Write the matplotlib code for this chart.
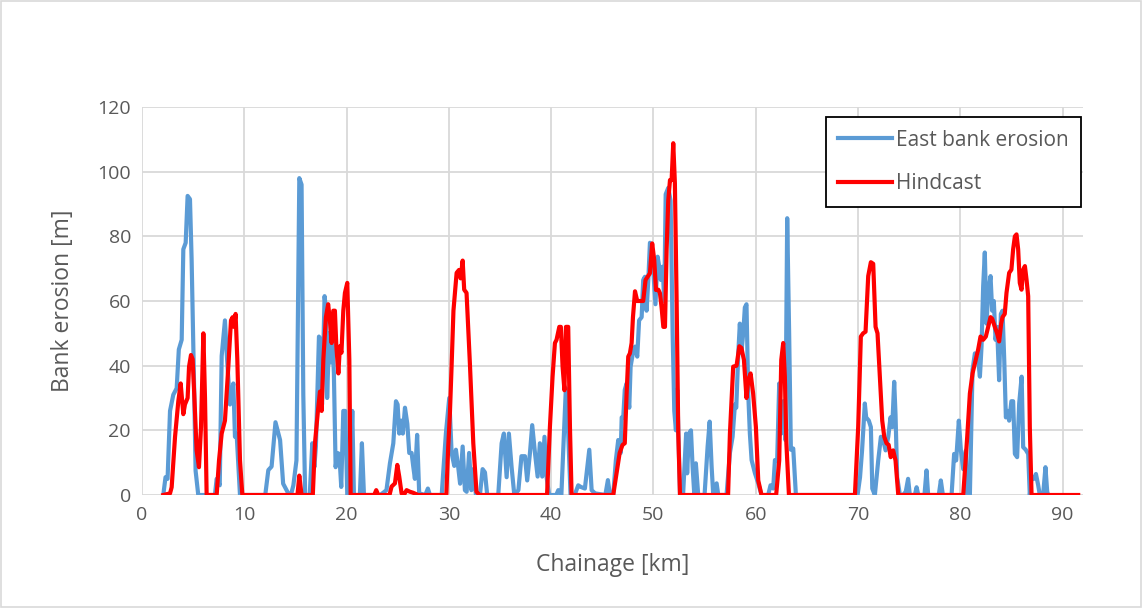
"""Bank erosion along the river: measured east bank erosion vs. hindcast."""

import matplotlib.pyplot as plt
from matplotlib.patches import Rectangle

OUT_FIG = "out.png"

# East bank erosion (measured) -- chainage [km], erosion [m]
east_km = [
    2.08, 2.3, 2.5, 2.74, 3.06, 3.39, 3.6, 3.88, 4.04, 4.27, 4.46, 4.69, 4.85,
    5.11, 5.24, 5.5, 7.13, 7.3, 7.6, 7.79, 8.11, 8.28, 8.6, 8.93, 9.09, 9.25,
    9.58, 12.05, 12.35, 12.67, 13.05, 13.5, 13.8, 14.3, 14.6, 14.8, 15.1,
    15.38, 15.6, 15.77, 15.95, 16.4, 16.65, 16.85, 17.0, 17.3, 17.47, 17.6,
    17.85, 18.0, 18.1, 18.3, 18.44, 18.6, 18.76, 18.93, 19.1, 19.29, 19.48,
    19.68, 19.87, 20.07, 20.33, 20.56, 20.72, 21.3, 21.5, 21.7, 23.3, 23.9,
    24.24, 24.57, 24.83, 24.99, 25.15, 25.35, 25.5, 25.71, 25.94, 26.13,
    26.36, 26.52, 26.68, 26.9, 27.1, 27.7, 27.95, 28.15, 29.3, 29.71, 30.04,
    30.27, 30.53, 30.69, 30.92, 31.1, 31.35, 31.57, 31.74, 31.98, 32.2, 32.4,
    32.65, 33.04, 33.3, 33.53, 33.75, 34.83, 35.16, 35.38, 35.65, 35.87,
    36.13, 36.4, 36.8, 37.1, 37.44, 37.66, 37.93, 38.15, 38.42, 38.68, 38.9,
    39.13, 39.35, 39.55, 39.8, 40.5, 40.7, 41.0, 41.44, 41.67, 41.9, 42.3,
    42.65, 42.9, 43.3, 43.73, 43.96, 44.3, 45.3, 45.55, 45.75, 46.07, 46.33,
    46.56, 46.8, 46.9, 47.05, 47.2, 47.38, 47.64, 47.77, 48.0, 48.2, 48.42,
    48.6, 48.85, 49.0, 49.17, 49.33, 49.5, 49.66, 49.82, 50.0, 50.2, 50.41,
    50.57, 50.73, 50.9, 51.06, 51.2, 51.45, 51.68, 51.88, 52.04, 52.2, 52.33,
    52.6, 52.9, 53.2, 53.3, 53.47, 53.67, 53.83, 54.0, 54.15, 54.38, 55.0,
    55.3, 55.5, 55.69, 55.85, 56.18, 56.34, 57.15, 57.48, 57.74, 57.97, 58.1,
    58.3, 58.45, 58.6, 58.78, 58.94, 59.1, 59.27, 59.43, 59.6, 59.93, 60.25,
    60.57, 61.22, 61.45, 61.71, 61.88, 62.1, 62.3, 62.5, 62.7, 62.9, 63.08,
    63.27, 63.44, 63.67, 63.93, 69.96, 70.2, 70.4, 70.67, 70.8, 71.06, 71.26,
    71.4, 71.65, 71.98, 72.24, 72.47, 72.7, 72.96, 73.18, 73.35, 73.54,
    73.67, 73.83, 74.1, 74.4, 74.67, 74.9, 75.07, 75.56, 75.73, 75.9, 76.5,
    76.7, 76.86, 77.9, 78.1, 78.3, 79.15, 79.4, 79.6, 79.86, 80.06, 80.29,
    80.55, 80.68, 80.94, 81.2, 81.43, 81.75, 81.92, 82.08, 82.24, 82.4,
    82.57, 82.73, 82.96, 83.12, 83.28, 83.45, 83.6, 83.8, 83.97, 84.13, 84.3,
    84.46, 84.62, 84.78, 85.0, 85.17, 85.34, 85.56, 85.76, 86.0, 86.15, 86.4,
    86.64, 86.8, 86.97, 87.2, 87.4, 87.62, 87.78, 88.1, 88.33, 88.5, 88.6,
]
east_m = [
    0, 5.5, 5, 26, 31, 33, 45, 48, 76, 78, 92.5, 91.5, 73,
    31, 7.5, 0, 0, 5, 3, 43, 54, 44, 28, 34.5, 18, 19,
    0, 0, 7.7, 8.8, 22.5, 17, 3.5, 0.5, 0.5, 3, 10.7,
    98, 96, 31, 0, 0, 16, 8.6, 15, 49, 48, 28,
    61.5, 57, 30, 50, 41, 50, 37.6, 8.6, 13, 12.7, 2.5,
    26, 26, 0, 0, 26, 0, 0, 16, 0, 0, 1.5,
    9.8, 16, 29, 28, 19, 23, 19, 27, 22, 13,
    13, 8.8, 5, 18.6, 0.5, 0, 2, 0, 0, 19, 30,
    13, 9, 14, 8.5, 3.5, 15, 1.5, 1, 13, 1.5, 8,
    0, 0, 8, 7, 0, 0, 16, 19, 5.5, 19,
    8.8, 0, 1.5, 12, 12, 4.5, 13, 21.6, 13, 5.7, 16,
    5.7, 18, 5.7, 0, 0, 1.5, 0, 33, 19, 0, 0,
    3, 2.5, 2, 14, 1.5, 0.5, 0, 4.6, 0, 0, 10.8,
    17, 13, 24, 24, 32.5, 34.5, 27, 39.7, 44, 45.9, 42.8,
    54, 55, 66.5, 67.5, 57, 66.5, 78, 77.5, 68.6, 59, 73.7,
    70.6, 66.5, 70.6, 60, 93, 95, 91, 50, 26, 20, 32.5,
    0, 0, 19, 6.7, 19, 20, 8.8, 0, 9.8, 0, 0,
    15, 22.7, 8.8, 0, 3.6, 0, 0, 13, 18, 28, 27,
    44, 53, 44, 50, 58, 59, 31.4, 19, 10.8, 6.7, 3.6,
    0, 0, 3, 2, 10.8, 10.8, 34.5, 19, 29, 17, 85.6,
    50, 14, 14.4, 0, 0, 5.5, 13.8, 28.3, 24, 23, 21,
    2, 0, 10.7, 18, 17, 13.8, 18, 24, 21, 35,
    25, 5.5, 0, 0, 1, 5, 0, 0, 2.4, 0, 0,
    7.6, 0, 0, 4.5, 0, 0, 12.7, 10.7, 23, 13.8, 8,
    13.8, 0, 0, 38.7, 43.8, 41.8, 36.6, 46, 64.6, 75,
    53, 62.5, 67.7, 57, 60, 48, 52, 35.5, 56, 57, 41.8,
    24, 26, 23, 29, 29, 12.7, 11.7, 28.3, 36.6, 14.8, 14,
    12.7, 0, 5.5, 5, 6.5, 3, 0, 0, 8.6, 1, 0,
]

# Hindcast -- chainage [km], erosion [m]
hind_km = [
    2.08, 2.74, 2.9, 3.23, 3.55, 3.78, 4.04, 4.2, 4.46, 4.6, 4.79, 4.95, 5.11,
    5.34, 5.57, 5.77, 6.0, 6.16, 6.32, 7.3, 7.53, 7.79, 8.11, 8.44, 8.7,
    8.86, 8.99, 9.15, 9.32, 9.58, 9.81, 15.2, 15.38, 15.6, 16.7, 16.91, 17.2,
    17.4, 17.56, 17.73, 17.98, 18.2, 18.37, 18.54, 18.7, 18.86, 19.0, 19.2,
    19.35, 19.5, 19.68, 19.84, 20.07, 20.27, 20.4, 22.7, 22.9, 23.1, 24.2,
    24.4, 24.73, 24.96, 25.15, 25.38, 25.6, 25.87, 26.2, 26.5, 27.0, 29.75,
    29.94, 30.1, 30.27, 30.45, 30.76, 30.99, 31.15, 31.35, 31.5, 31.73,
    32.06, 32.39, 32.7, 33.0, 39.6, 39.88, 40.14, 40.37, 40.53, 40.8, 40.95,
    41.12, 41.3, 41.45, 41.67, 41.84, 42.0, 46.07, 46.4, 46.7, 46.98, 47.2,
    47.38, 47.54, 47.7, 47.87, 48.0, 48.2, 48.42, 48.68, 49.0, 49.23, 49.43,
    49.66, 49.88, 50.08, 50.25, 50.48, 50.64, 50.8, 50.97, 51.13, 51.29,
    51.45, 51.62, 51.78, 51.94, 52.1, 52.27, 52.43, 52.6, 57.3, 57.48, 57.8,
    58.13, 58.4, 58.6, 58.85, 59.1, 59.27, 59.5, 59.75, 60.02, 60.25, 60.57,
    62.0, 62.3, 62.5, 62.69, 62.85, 63.0, 63.25, 69.7, 70.02, 70.28, 70.5,
    70.74, 71.0, 71.26, 71.49, 71.72, 71.91, 72.14, 72.37, 72.57, 72.79,
    73.0, 73.2, 73.44, 73.67, 73.94, 80.29, 80.68, 80.94, 81.2, 81.43,
    81.75, 81.98, 82.24, 82.5, 82.73, 82.96, 83.12, 83.38, 83.6, 83.8, 84.0,
    84.13, 84.35, 84.52, 84.78, 85.0, 85.17, 85.34, 85.5, 85.66, 85.82,
    85.99, 86.15, 86.32, 86.48, 86.64, 86.8, 86.97, 91.53,
]
hind_m = [
    0, 0.5, 2.4, 18, 29, 34.5, 25, 28, 30, 39.7, 43.3, 42, 31,
    13.8, 8.6, 21, 50, 30, 0, 0, 10.7, 19, 23, 39.7, 54,
    55, 52, 56, 41.8, 10.7, 0, 0, 6, 0, 0, 16, 26,
    32, 26, 42, 55, 59, 54, 47, 57, 57, 46, 37.6,
    46, 44, 57, 62.5, 65.6, 41.8, 0, 0, 1.5, 0, 0,
    2.6, 3.6, 9.3, 5.7, 0.5, 0, 1.5, 1, 0.7, 0, 0,
    15, 25, 40, 57, 68.7, 69.6, 67, 72.5, 63.5, 62.5,
    40.5, 16, 1, 0, 0, 21, 36.6, 47, 48, 52, 52,
    39.7, 32.4, 52, 52, 21, 0, 0, 6.7, 13, 15.5, 16,
    31.4, 42.8, 43.8, 47, 55, 63, 60, 60, 60, 66.5, 67.5,
    68.6, 77.8, 72.7, 63.4, 63.5, 62.4, 58, 52, 52, 75.8,
    91, 97.4, 97.4, 108.8, 96.4, 60, 19, 0, 0, 19, 39.7,
    40, 46, 45.5, 41.8, 30, 35.5, 37.6, 31.4, 21, 4.5, 0,
    0, 10.7, 41.8, 47, 36.6, 16, 0, 0, 21, 49, 50,
    50.5, 67.7, 72, 71.5, 52, 50, 36.6, 23, 18, 16,
    15.5, 11.7, 13.8, 10.7, 0, 0, 18, 31.4, 37.6, 40.7,
    45, 49, 48, 49, 52, 55, 54.5, 52, 50, 47.5, 53,
    55, 56, 62.5, 68.7, 69.7, 76, 80, 80.6, 76, 65.6,
    63.5, 69.7, 70.8, 66.6, 61.5, 21, 0, 0,
]

x_ticks = [0, 10, 20, 30, 40, 50, 60, 70, 80, 90]
y_ticks = [0, 20, 40, 60, 80, 100, 120]

TEXT_GREY = "#595959"
GRID_GREY = "#D9D9D9"


def main() -> None:
    plt.rcParams["font.family"] = ["Open Sans", "DejaVu Sans"]
    fig = plt.figure(figsize=(11.43, 6.08), dpi=100)
    ax = fig.add_axes([142 / 1143, 1 - 495 / 608,
                       (1083 - 142) / 1143, (495 - 107) / 608])

    ax.plot(east_km, east_m, color="#5B9BD5", lw=3.0,
            solid_joinstyle="round", label="East bank erosion", zorder=3)
    ax.plot(hind_km, hind_m, color="#FF0000", lw=3.0,
            solid_joinstyle="round", label="Hindcast", zorder=4)

    ax.set_xlim(0, 92)
    ax.set_ylim(0, 120)
    ax.set_xticks(x_ticks)
    ax.set_yticks(y_ticks)
    ax.tick_params(length=0, labelsize=14, colors=TEXT_GREY, pad=8)
    ax.grid(True, color=GRID_GREY, lw=1.3)
    ax.set_axisbelow(True)
    for sp in ax.spines.values():
        sp.set_visible(False)

    ax.set_xlabel("Chainage [km]", fontsize=16.5, color=TEXT_GREY, labelpad=21)
    ax.set_ylabel("Bank erosion [m]", fontsize=16.5, color=TEXT_GREY,
                  labelpad=16)

    leg = ax.legend(loc="upper right",
                    bbox_to_anchor=(1081 / 1143, 1 - 117 / 608),
                    bbox_transform=fig.transFigure, borderaxespad=0,
                    fontsize=15, handlelength=2.55, labelspacing=1.1,
                    handletextpad=0.2, borderpad=0.6, fancybox=False,
                    framealpha=1, edgecolor="black")
    leg.get_frame().set_linewidth(1.3)
    for t in leg.get_texts():
        t.set_color(TEXT_GREY)

    # Rahmen um den gesamten Chart-Bereich (wie im Excel-Export).
    fig.patches.append(Rectangle((0.001, 0.002), 0.997, 0.996,
                                 transform=fig.transFigure, fill=False,
                                 edgecolor=GRID_GREY, lw=1.2))

    fig.savefig(OUT_FIG, dpi=100)


if __name__ == "__main__":
    main()
